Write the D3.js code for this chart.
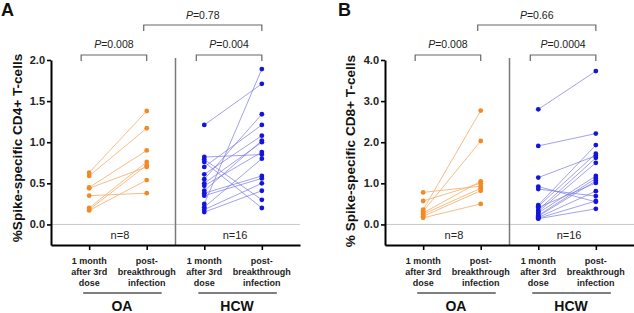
<!DOCTYPE html>
<html>
<head>
<meta charset="utf-8">
<script src="https://cdn.jsdelivr.net/npm/d3@7"></script>
<style>
  html, body { margin: 0; padding: 0; background: #fff; }
  svg { display: block; font-family: "Liberation Sans", Arial, Helvetica, sans-serif; }
</style>
</head>
<body>
<svg id="chart" width="634" height="313"></svg>
<script>
// ---------------- DATA ----------------
const groups = ["OA", "HCW"];
const groupN = ["n=8", "n=16"];
const timepointKeys = ["OA-pre", "OA-post", "HCW-pre", "HCW-post"];
const tickLabelLines = [
  ["1 month", "after 3rd", "dose"],
  ["post-", "breakthrough", "infection"]
];

// Panel A: CD4+ (paired: pre[i] -> post[i])
const cd4OAPre   = [0.63, 0.59, 0.45, 0.44, 0.35, 0.20, 0.18, 0.17];
const cd4OAPost  = [1.38, 1.17, 0.90, 0.70, 0.38, 0.76, 0.72, 0.54];
const cd4HCWPre  = [1.21, 0.82, 0.79, 0.76, 0.70, 0.61, 0.55, 0.50, 0.47, 0.41, 0.38, 0.35, 0.25, 0.21, 0.18, 0.15];
const cd4HCWPost = [1.71, 0.85, 0.30, 0.20, 1.21, 1.08, 1.34, 1.00, 0.88, 1.02, 0.59, 0.56, 1.89, 0.80, 0.50, 0.41];
const cd4Ticks = [0.0, 0.5, 1.0, 1.5, 2.0];
const cd4PValues = ["0.008", "0.004", "0.78"];

// Panel B: CD8+
const cd8OAPre   = [0.78, 0.57, 0.36, 0.32, 0.28, 0.25, 0.20, 0.16];
const cd8OAPost  = [0.93, 1.00, 2.77, 2.03, 1.05, 0.88, 0.82, 0.50];
const cd8HCWPre  = [2.80, 1.91, 1.14, 0.92, 0.86, 0.47, 0.44, 0.41, 0.35, 0.31, 0.28, 0.22, 0.20, 0.17, 0.15, 0.14];
const cd8HCWPost = [3.73, 2.21, 1.67, 0.55, 0.69, 1.93, 1.72, 1.01, 1.62, 1.50, 1.18, 1.12, 1.06, 0.81, 0.57, 0.38];
const cd8Ticks = [0.0, 1.0, 2.0, 3.0, 4.0];
const cd8PValues = ["0.008", "0.0004", "0.66"];

// ---------------- STYLE ----------------
const orangeDot = "#f28a24", orangeLine = "#f4b57a";
const blueDot = "#1414dc", blueLine = "#7a7ae0";

const svg = d3.select("#chart");

function drawPanel(cfg) {
  const g = svg.append("g");
  const x = d3.scalePoint().domain(timepointKeys).range([cfg.x0, cfg.x1]).padding(0.663);
  const y = d3.scaleLinear().domain(cfg.domain).range([245, 60]);

  // zero reference line
  g.append("line")
    .attr("x1", cfg.x0).attr("x2", cfg.x1)
    .attr("y1", y(0)).attr("y2", y(0))
    .attr("stroke", "#c8c8c8").attr("stroke-width", 1);

  // divider
  const xd = (x("OA-post") + x("HCW-pre")) / 2;
  g.append("line")
    .attr("x1", xd).attr("x2", xd).attr("y1", 58).attr("y2", 245)
    .attr("stroke", "#7a7a7a").attr("stroke-width", 1.5);

  // series
  const series = [
    { pre: cfg.oaPre, post: cfg.oaPost, k0: "OA-pre", k1: "OA-post", dot: orangeDot, line: orangeLine, lw: 0.9 },
    { pre: cfg.hcwPre, post: cfg.hcwPost, k0: "HCW-pre", k1: "HCW-post", dot: blueDot, line: blueLine, lw: 0.7 }
  ];
  series.forEach(s => {
    const pairs = s.pre.map((v, i) => [v, s.post[i]]);
    g.append("g").selectAll("line").data(pairs).join("line")
      .attr("x1", x(s.k0)).attr("x2", x(s.k1))
      .attr("y1", d => y(d[0])).attr("y2", d => y(d[1]))
      .attr("stroke", s.line).attr("stroke-width", s.lw);
    g.append("g").selectAll("circle").data(s.pre).join("circle")
      .attr("cx", x(s.k0)).attr("cy", d => y(d)).attr("r", 2.4).attr("fill", s.dot);
    g.append("g").selectAll("circle").data(s.post).join("circle")
      .attr("cx", x(s.k1)).attr("cy", d => y(d)).attr("r", 2.4).attr("fill", s.dot);
  });

  // y axis
  const ya = g.append("g").attr("transform", `translate(${cfg.x0},0)`)
    .call(d3.axisLeft(y).tickValues(cfg.ticks).tickFormat(d3.format(".1f")).tickSize(4).tickSizeOuter(0).tickPadding(2));
  ya.select(".domain").attr("stroke", "#000").attr("stroke-width", 2);
  ya.selectAll(".tick line").attr("stroke", "#000").attr("stroke-width", 1.6);
  ya.selectAll(".tick text").attr("font-size", 11).attr("font-weight", "bold").attr("fill", "#222")
    .attr("font-family", "Liberation Sans, Arial, sans-serif");

  // x axis
  const xa = g.append("g").attr("transform", "translate(0,245)")
    .call(d3.axisBottom(x).tickFormat("").tickSize(5).tickSizeOuter(0));
  xa.select(".domain").attr("stroke", "#000").attr("stroke-width", 2);
  xa.selectAll(".tick line").attr("stroke", "#000").attr("stroke-width", 1.6);

  // tick labels (multi-line)
  timepointKeys.forEach((k, i) => {
    const lines = tickLabelLines[i % 2];
    const t = g.append("text").attr("text-anchor", "middle")
      .attr("font-size", 9).attr("font-weight", "bold").attr("fill", "#222");
    lines.forEach((ln, j) => {
      t.append("tspan").attr("x", x(k)).attr("y", 263.5 + j * 11).text(ln);
    });
  });

  // group underlines and names
  groups.forEach((grp, gi) => {
    const a = x(timepointKeys[gi * 2]), b = x(timepointKeys[gi * 2 + 1]);
    g.append("line").attr("x1", a - 6).attr("x2", b + 15).attr("y1", 293).attr("y2", 293)
      .attr("stroke", "#555").attr("stroke-width", 1.3);
    g.append("text").attr("x", (a + b) / 2 + 4).attr("y", 310.5).attr("text-anchor", "middle")
      .attr("font-size", 14).attr("font-weight", "bold").attr("fill", "#111").text(grp);
    g.append("text").attr("x", (a + b) / 2 + 2).attr("y", 239).attr("text-anchor", "middle")
      .attr("font-size", 11).attr("fill", "#222").text(groupN[gi]);
  });

  // significance brackets
  function bracket(xa_, xb_, yy, drop, label, ty) {
    g.append("path")
      .attr("d", `M${xa_},${yy + drop}V${yy}H${xb_}V${yy + drop}`)
      .attr("fill", "none").attr("stroke", "#666").attr("stroke-width", 1.2);
    const t = g.append("text").attr("x", (xa_ + xb_) / 2).attr("y", ty).attr("text-anchor", "middle")
      .attr("font-size", 10.5).attr("fill", "#222");
    t.append("tspan").attr("font-style", "italic").text("P");
    t.append("tspan").text("=" + label);
  }
  bracket(x("OA-pre") - 8, x("OA-post"), 55, 6, cfg.pvals[0], 48);
  bracket(x("HCW-pre") - 8, x("HCW-post"), 55, 6, cfg.pvals[1], 48);
  bracket(x("OA-post") - 3, x("HCW-post"), 25, 6, cfg.pvals[2], 19.3);

  // y-axis label
  g.append("text")
    .attr("transform", `translate(${cfg.labelX},${cfg.labelY}) rotate(-90)`)
    .attr("text-anchor", "middle").attr("font-size", 13.6).attr("font-weight", "bold").attr("fill", "#111")
    .text(cfg.ylabel);

  // panel letter
  g.append("text").attr("x", cfg.letterX).attr("y", 16).attr("font-size", 18).attr("font-weight", "bold")
    .attr("fill", "#111").text(cfg.letter);
}

drawPanel({
  x0: 51, x1: 300, domain: [-0.25, 2.0], ticks: cd4Ticks,
  oaPre: cd4OAPre, oaPost: cd4OAPost, hcwPre: cd4HCWPre, hcwPost: cd4HCWPost,
  pvals: cd4PValues, ylabel: "%Spike-specific CD4+ T-cells", labelX: 22, labelY: 148,
  letter: "A", letterX: 1
});
drawPanel({
  x0: 385, x1: 634, domain: [-0.5, 4.0], ticks: cd8Ticks,
  oaPre: cd8OAPre, oaPost: cd8OAPost, hcwPre: cd8HCWPre, hcwPost: cd8HCWPost,
  pvals: cd8PValues, ylabel: "% Spike-specific CD8+ T-cells", labelX: 355, labelY: 151,
  letter: "B", letterX: 338
});
</script>
</body>
</html>
